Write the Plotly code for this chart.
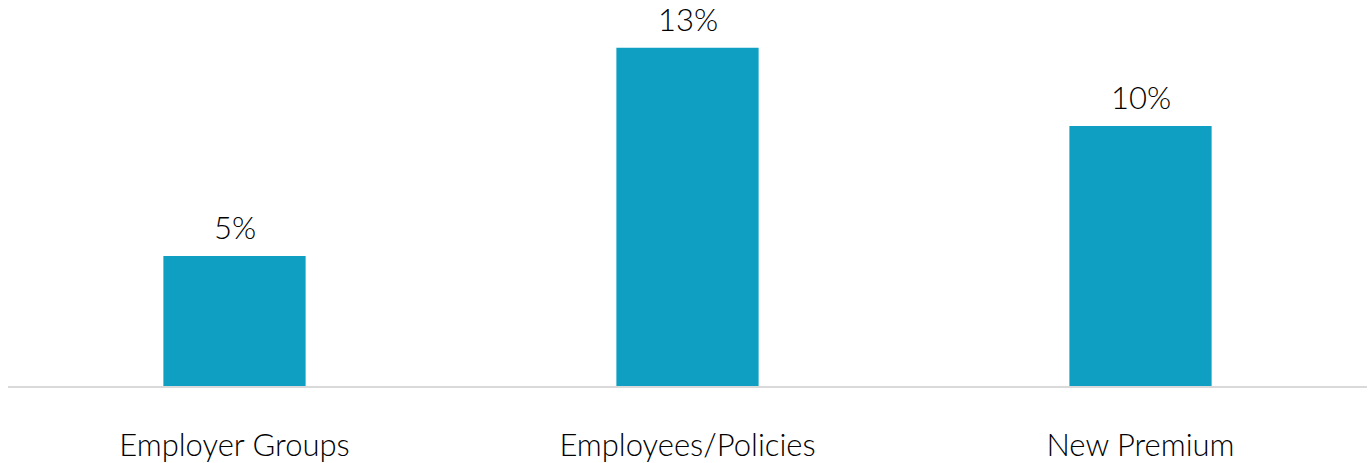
import plotly.graph_objects as go

categories = ["Employer Groups", "Employees/Policies", "New Premium"]
values = [5, 13, 10]
labels = ["5%", "13%", "10%"]

BAR_COLOR = "#0E9FC2"
FONT = "Lato"

fig = go.Figure()
fig.add_trace(go.Bar(
    x=categories, y=values, marker_color=BAR_COLOR, marker_line_width=0,
    hoverinfo="skip",
))
for c, v, t in zip(categories, values, labels):
    fig.add_annotation(x=c, y=v, text=t, showarrow=False, yanchor="bottom",
                       yshift=8, font=dict(family=FONT, size=31, weight=300, color="#000000"))

fig.update_layout(
    width=1370, height=463,
    margin=dict(l=8, r=3, t=0, b=70),
    plot_bgcolor="white", paper_bgcolor="white",
    bargap=0.686,
    showlegend=False,
)
fig.update_xaxes(
    showline=True, linecolor="#D9D9D9", linewidth=2,
    ticks="outside", ticklen=31, tickcolor="rgba(0,0,0,0)",
    tickfont=dict(family=FONT, size=31, weight=300, color="#000000"),
)
fig.update_yaxes(range=[0, 14.84], showgrid=False, showticklabels=False,
                 zeroline=False, visible=False)
fig.write_html("out.html", config={"displayModeBar": False},
               post_script="document.body.style.margin='0';document.body.style.overflow='hidden';")
